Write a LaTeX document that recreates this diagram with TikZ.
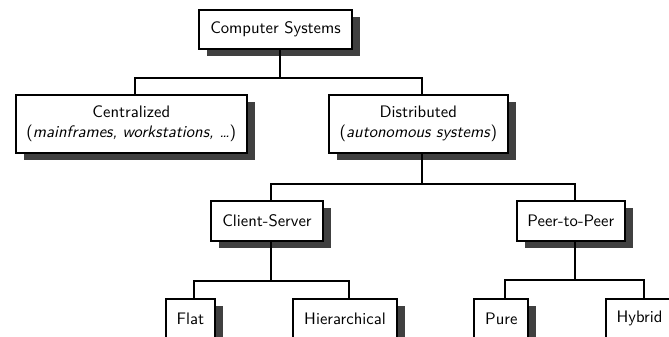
\documentclass[tikz,border=0pt]{standalone}
\usetikzlibrary{shadows}

\tikzset{
  box/.style={draw, line width=1.2pt, fill=white, align=center, font=\sffamily,
    inner xsep=6.5pt, inner ysep=6.75pt, minimum height=23.5pt,
    drop shadow={shadow xshift=4.8pt, shadow yshift=-4.2pt, fill=black!75, opacity=1}},
  link/.style={line width=1.2pt},
}

\begin{document}
\begin{tikzpicture}[x=0.6pt,y=-0.6pt]
\useasboundingbox (0,0) rectangle (669,336);
\clip (0,0) rectangle (669,336);
% levels of the taxonomy
\node[box] (cs) at (275.5,29.7) {Computer Systems};
\node[box] (cen) at (131.3,124) {Centralized\\(\textit{mainframes, workstations, \dots})};
\node[box] (dis) at (418.3,124) {Distributed\\(\textit{autonomous systems})};
\node[box] (cls) at (267,221) {Client-Server};
\node[box] (p2p) at (570.8,221) {Peer-to-Peer};
\node[box] (flat) at (190.3,318.5) {Flat};
\node[box] (hier) at (345,318.5) {Hierarchical};
\node[box] (pure) at (501.3,318.5) {Pure};
\node[box] (hyb) at (639.5,318.5) {Hybrid};
% connectors
\draw[link] (cs.south) ++(2.4pt,0) -- ++(0,28) coordinate (j1)
  -| ([xshift=2.4pt]cen.north) (j1) -| ([xshift=2.4pt]dis.north);
\draw[link] (dis.south) ++(2.4pt,0) -- ++(0,30) coordinate (j2)
  -| ([xshift=2.4pt]cls.north) (j2) -| ([xshift=2.4pt]p2p.north);
\draw[link] (cls.south) ++(2.4pt,0) -- ++(0,39) coordinate (j3)
  -| ([xshift=2.4pt]flat.north) (j3) -| ([xshift=2.4pt]hier.north);
\draw[link] (p2p.south) ++(2.4pt,0) -- ++(0,38) coordinate (j4)
  -| ([xshift=2.4pt]pure.north) (j4) -| ([xshift=2.4pt]hyb.north);
\end{tikzpicture}
\end{document}
